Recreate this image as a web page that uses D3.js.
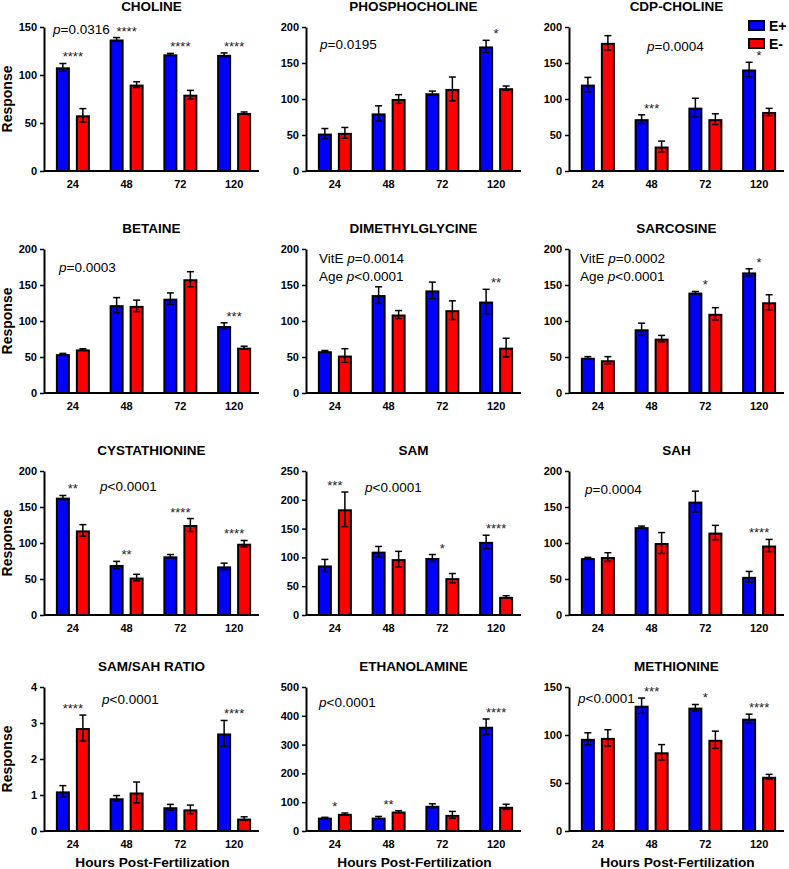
<!DOCTYPE html>
<html>
<head>
<meta charset="utf-8">
<script src="https://cdn.jsdelivr.net/npm/d3@7.9.0/dist/d3.min.js"></script>
<style>
  body { margin: 0; background: #fff; }
  svg { display: block; }
  text { font-family: Arial, "Liberation Sans", sans-serif; }
</style>
</head>
<body>
<svg id="chart" width="789" height="869"></svg>
<script>
// ---- data ----
const hours = ['24', '48', '72', '120'];
const groups = ['E+', 'E-'];

const titles = ['CHOLINE', 'PHOSPHOCHOLINE', 'CDP-CHOLINE',
  'BETAINE', 'DIMETHYLGLYCINE', 'SARCOSINE',
  'CYSTATHIONINE', 'SAM', 'SAH',
  'SAM/SAH RATIO', 'ETHANOLAMINE', 'METHIONINE'];

const ePlusMean = [
  [108, 137, 121.5, 121],
  [52, 80, 108, 173],
  [120, 72, 88, 141],
  [54, 122, 131, 93],
  [58, 136, 142.5, 127],
  [49, 88.5, 139.5, 167.5],
  [163, 69.5, 81.5, 67.5],
  [86, 110, 99, 127],
  [79, 122, 157.5, 53],
  [1.10, 0.91, 0.66, 2.71],
  [46.5, 46.5, 87.5, 362],
  [96, 130.5, 128.5, 117]
];
const ePlusErr = [
  [4, 2, 1, 2],
  [7, 10.5, 3, 8.5],
  [10, 6, 13, 10],
  [1, 10.5, 8, 4.5],
  [1, 11.5, 11.5, 17],
  [1.5, 8.5, 1.5, 5],
  [3, 5, 2.5, 4.5],
  [10.5, 9, 6, 11.5],
  [1, 1.5, 14.5, 7.5],
  [0.16, 0.075, 0.08, 0.36],
  [1, 4, 7, 27],
  [6.3, 8, 3.3, 4.7]
];
const eMinusMean = [
  [58, 90, 79.5, 60.5],
  [53, 100, 114, 115],
  [178, 34, 72, 82],
  [60.5, 121, 158, 63],
  [52, 109, 115, 63],
  [45.5, 75.5, 110, 126],
  [117.5, 52, 125, 99],
  [183.5, 97, 64, 31.5],
  [80.5, 100, 114.5, 96.5],
  [2.86, 1.07, 0.60, 0.345],
  [59.5, 67.5, 56, 84],
  [97, 82, 95, 56.5]
];
const eMinusErr = [
  [7, 3, 4.5, 1],
  [7.5, 6, 16.5, 3],
  [10, 7.5, 7.5, 5],
  [1, 8, 10.5, 2],
  [9.5, 5.5, 13, 13],
  [5, 4.5, 8.5, 10.5],
  [8, 4.5, 9, 4.5],
  [30, 13.5, 8, 2],
  [6, 14.5, 10, 8.5],
  [0.36, 0.29, 0.12, 0.05],
  [3, 3, 12, 9],
  [8.5, 8, 9, 2.5]
];
const yMax = [150, 200, 200, 200, 200, 200, 200, 250, 200, 4, 500, 150];
const yStep = [50, 50, 50, 50, 50, 50, 50, 50, 50, 1, 100, 50];

const stars = [
  ['****', '****', '****', '****'],
  ['', '', '', '*'],
  ['', '***', '', '*'],
  ['', '', '', '***'],
  ['', '', '', '**'],
  ['', '', '*', '*'],
  ['**', '**', '****', '****'],
  ['***', '', '*', '****'],
  ['', '', '', '****'],
  ['****', '', '', '****'],
  ['*', '**', '', '****'],
  ['', '***', '*', '****']
];
const pTexts = [
  ['p=0.0316'], ['p=0.0195'], ['p=0.0004'],
  ['p=0.0003'], ['VitE p=0.0014', 'Age p<0.0001'], ['VitE p=0.0002', 'Age p<0.0001'],
  ['p<0.0001'], ['p<0.0001'], ['p=0.0004'],
  ['p<0.0001'], ['p<0.0001'], ['p<0.0001']
];

// ---- layout ----
const colX = [44, 306, 569];
const rowY = [27, 249, 471, 687];
const W = 215, H = 144;
// p-value text offset inside each plot (x from axis, baseline from top)
const pPos = [[9, 7], [14, 22], [78, 24], [15, 23], [13, 14], [11, 14],
  [56, 20], [59, 21], [16, 23], [58, 17], [13, 20], [9, 16]];
const colors = { 'E+': '#0000ff', 'E-': '#ff0000' };

const svg = d3.select('#chart');

const x = d3.scaleBand().domain(hours).range([2, 217]);
const xSub = d3.scaleBand().domain(groups).range([-17, 17]).paddingInner(0.3);

titles.forEach((title, i) => {
  const col = i % 3, row = Math.floor(i / 3);
  const g = svg.append('g').attr('transform', `translate(${colX[col]},${rowY[row]})`);
  const y = d3.scaleLinear().domain([0, yMax[i]]).range([H, 0]);

  // title
  g.append('text')
    .attr('x', W / 2).attr('y', -16.5)
    .attr('text-anchor', 'middle')
    .attr('font-size', 13.5).attr('font-weight', 'bold')
    .text(title);

  // bars + error bars
  hours.forEach((h, j) => {
    const cx = x(h) + x.bandwidth() / 2;
    groups.forEach(grp => {
      const m = grp === 'E+' ? ePlusMean[i][j] : eMinusMean[i][j];
      const e = grp === 'E+' ? ePlusErr[i][j] : eMinusErr[i][j];
      const bx = cx + xSub(grp);
      const bw = xSub.bandwidth();
      g.append('rect')
        .attr('x', bx + 1).attr('width', bw - 2)
        .attr('y', y(m) + 1).attr('height', Math.max(0, y(0) - y(m) - 1))
        .attr('fill', colors[grp])
        .attr('stroke', '#000').attr('stroke-width', 2);
      const mx = bx + bw / 2;
      const eb = g.append('g').attr('stroke', '#000').attr('stroke-width', 1.5);
      eb.append('line').attr('x1', mx).attr('x2', mx).attr('y1', y(m - e)).attr('y2', y(m + e));
      eb.append('line').attr('x1', mx - 3.5).attr('x2', mx + 3.5).attr('y1', y(m + e)).attr('y2', y(m + e));
      eb.append('line').attr('x1', mx - 3.5).attr('x2', mx + 3.5).attr('y1', y(m - e)).attr('y2', y(m - e));
    });
    // significance stars
    if (stars[i][j]) {
      const top = Math.max(ePlusMean[i][j] + ePlusErr[i][j], eMinusMean[i][j] + eMinusErr[i][j]);
      g.append('text')
        .attr('x', cx).attr('y', y(top) - 2)
        .attr('text-anchor', 'middle')
        .attr('font-size', 13).attr('fill', '#222')
        .text(stars[i][j]);
    }
  });

  // axes
  const ya = g.append('g')
    .call(d3.axisLeft(y).tickValues(d3.range(0, yMax[i] + 1e-9, yStep[i]))
      .tickFormat(d3.format('~g'))
      .tickSize(4).tickSizeOuter(0).tickPadding(3));
  const xa = g.append('g').attr('transform', `translate(0,${H})`)
    .call(d3.axisBottom(x).tickSize(0).tickPadding(9));
  xa.select('.domain').attr('d', `M0,0H${W}`);
  [ya, xa].forEach(a => {
    a.select('.domain').attr('stroke-width', 2);
    a.selectAll('.tick line').attr('stroke-width', 1.5);
    a.selectAll('text').attr('font-size', 11).attr('font-weight', 'bold')
      .attr('font-family', 'Arial, "Liberation Sans", sans-serif').attr('fill', '#000');
  });

  // p-value annotation, italic p
  pTexts[i].forEach((s, k) => {
    const at = s.indexOf('p');
    const t = g.append('text')
      .attr('x', pPos[i][0]).attr('y', pPos[i][1] + k * 18)
      .attr('font-size', 13.5);
    t.append('tspan').text(s.slice(0, at));
    t.append('tspan').attr('font-style', 'italic').text('p');
    t.append('tspan').text(s.slice(at + 1));
  });

  // axis titles
  if (col === 0) {
    svg.append('text')
      .attr('transform', `translate(12,${rowY[row] + H / 2}) rotate(-90)`)
      .attr('text-anchor', 'middle')
      .attr('font-size', 14).attr('font-weight', 'bold')
      .text('Response');
  }
  if (row === 3) {
    svg.append('text')
      .attr('x', colX[col] + W / 2 + 1).attr('y', 867)
      .attr('text-anchor', 'middle')
      .attr('font-size', 13.7).attr('font-weight', 'bold')
      .text('Hours Post-Fertilization');
  }
});

// legend
const leg = svg.append('g').attr('transform', 'translate(749,21)');
groups.forEach((grp, k) => {
  leg.append('rect')
    .attr('x', 0).attr('y', k * 18).attr('width', 15).attr('height', 9)
    .attr('fill', colors[grp]).attr('stroke', '#000').attr('stroke-width', 2);
  leg.append('text')
    .attr('x', 20).attr('y', k * 18 + 9.5)
    .attr('font-size', 14).attr('font-weight', 'bold')
    .text(grp);
});
</script>
</body>
</html>
